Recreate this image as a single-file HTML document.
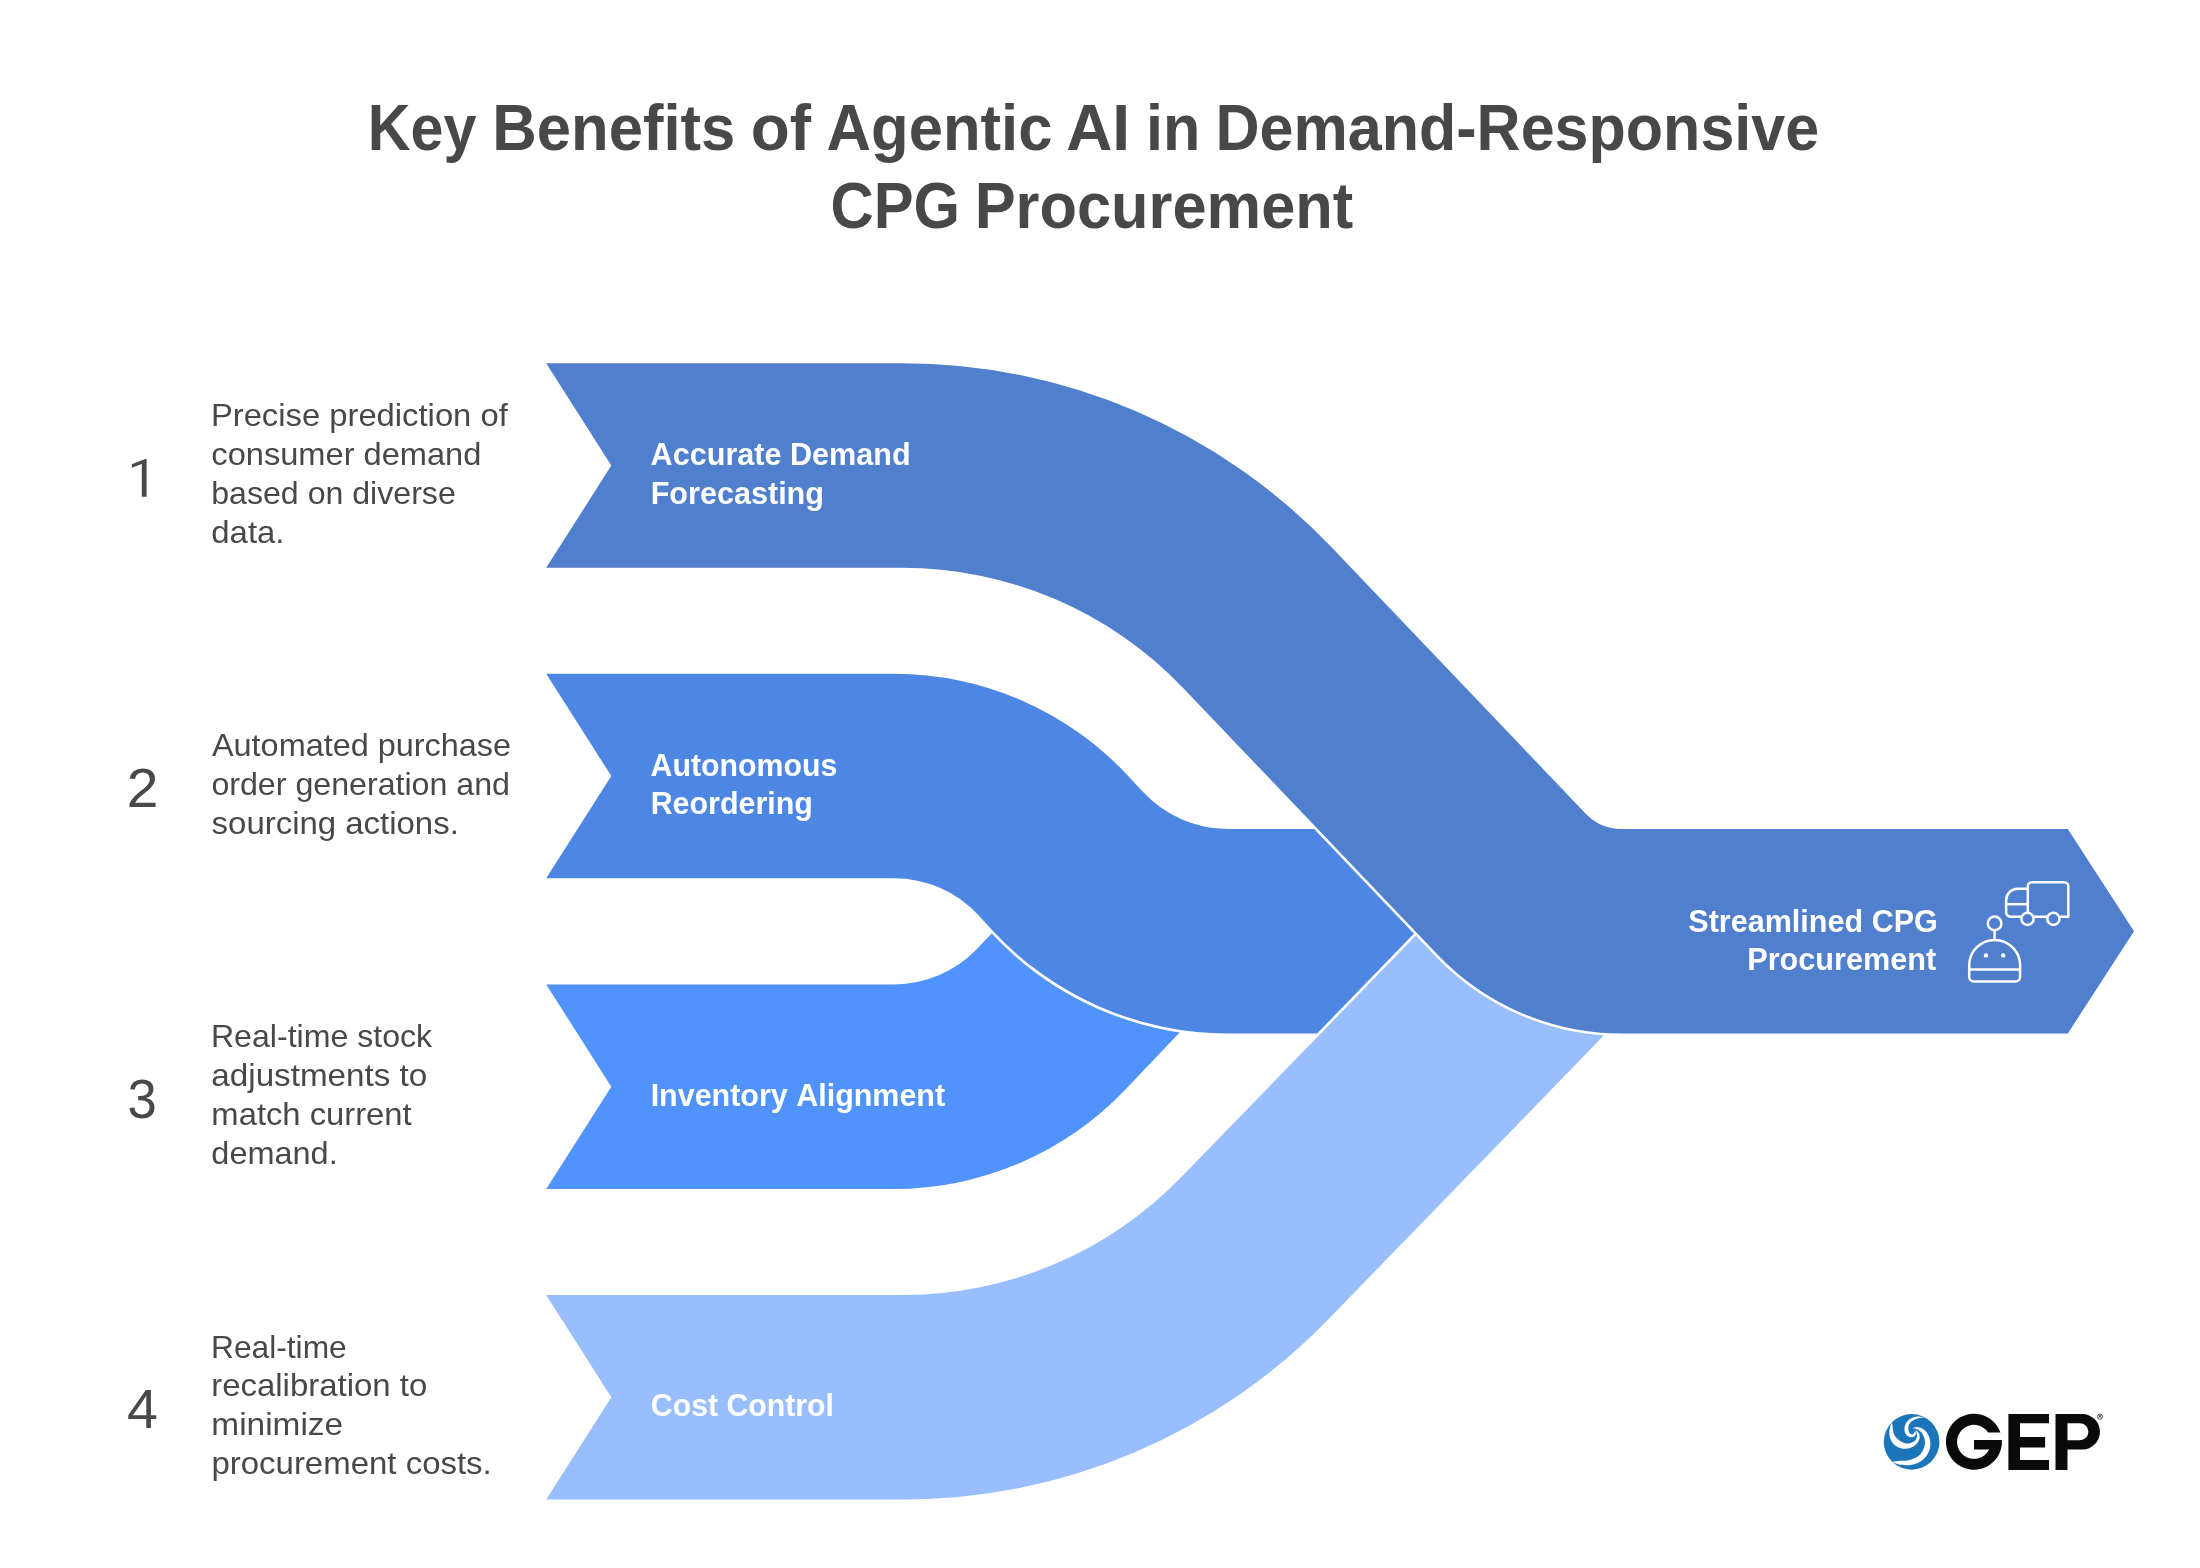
<!DOCTYPE html>
<html><head><meta charset="utf-8"><title>Key Benefits of Agentic AI in Demand-Responsive CPG Procurement</title>
<style>
html,body{margin:0;padding:0;background:#fff;}
body{width:2200px;height:1568px;overflow:hidden;font-family:"Liberation Sans",sans-serif;}
svg{display:block;}
svg text{font-family:"Liberation Sans",sans-serif;font-kerning:none;white-space:pre;}
</style></head><body>
<svg width="2200" height="1568" viewBox="0 0 2200 1568">
<rect width="2200" height="1568" fill="#fff"/>
<path d="M546.20 984.45 L893.90 984.45 A115.05 115.05 0 0 0 977.35 948.60 L1018.72 905.00 L1210.50 1000.00 L1125.69 1089.36 A319.55 319.55 0 0 1 893.90 1188.95 L546.20 1188.95 L611.30 1086.70 Z" fill="#5193FC" stroke="#fff" stroke-width="5.2" stroke-linejoin="miter" style="paint-order:stroke"/>
<path d="M546.20 673.75 L893.90 673.75 A319.55 319.55 0 0 1 1128.21 776.02 L1142.84 791.79 A115.95 115.95 0 0 0 1227.86 828.90 L1500.00 828.90 L1500.00 1033.50 L1227.95 1033.50 A320.45 320.45 0 0 1 992.98 930.94 L978.26 915.07 A115.05 115.05 0 0 0 893.90 878.25 L546.20 878.25 L611.30 776.00 Z" fill="#4E87E3" stroke="#fff" stroke-width="5.2" stroke-linejoin="miter" style="paint-order:stroke"/>
<path d="M546.20 1294.95 L903.15 1294.95 A387.40 387.40 0 0 0 1181.16 1177.34 L1445.45 905.00 L1643.07 995.00 L1327.92 1319.76 A591.90 591.90 0 0 1 903.15 1499.45 L546.20 1499.45 L611.30 1397.20 Z" fill="#98BEFD" stroke="#fff" stroke-width="5.2" stroke-linejoin="miter" style="paint-order:stroke"/>
<path d="M546.20 363.30 L902.30 363.30 A592.70 592.70 0 0 1 1331.09 546.81 L1585.51 813.42 A50.00 50.00 0 0 0 1621.68 828.90 L2067.8 828.90 L2134 931.20 L2067.8 1033.50 L1621.77 1033.50 A254.50 254.50 0 0 1 1437.66 954.70 L1183.14 688.00 A388.20 388.20 0 0 0 902.30 567.80 L546.20 567.80 L611.30 465.55 Z" fill="#507FCE" stroke="#fff" stroke-width="5.2" stroke-linejoin="miter" style="paint-order:stroke"/>
<g style="opacity:0.999">
<text transform="translate(367.83 150.00) scale(0.9113 1)" font-weight="bold" font-size="65" fill="#484848">Key</text>
<text transform="translate(492.27 150.00) scale(0.9479 1)" font-weight="bold" font-size="65" fill="#484848">Benefits</text>
<text transform="translate(750.66 150.00) scale(0.9827 1)" font-weight="bold" font-size="65" fill="#484848">of</text>
<text transform="translate(826.49 150.00) scale(0.9483 1)" font-weight="bold" font-size="65" fill="#484848">Agentic</text>
<text transform="translate(1066.22 150.00) scale(0.9832 1)" font-weight="bold" font-size="65" fill="#484848">AI</text>
<text transform="translate(1145.93 150.00) scale(0.9406 1)" font-weight="bold" font-size="65" fill="#484848">in</text>
<text transform="translate(1215.40 150.00) scale(0.9393 1)" font-weight="bold" font-size="65" fill="#484848">Demand-Responsive</text>
<text transform="translate(830.52 227.50) scale(0.9194 1)" font-weight="bold" font-size="65" fill="#484848">CPG</text>
<text transform="translate(974.63 227.50) scale(0.9444 1)" font-weight="bold" font-size="65" fill="#484848">Procurement</text>
<text transform="translate(126.73 807.33) scale(1.0309 1)" font-weight="normal" font-size="55.3" fill="#484848">2</text>
<text transform="translate(127.48 1117.86) scale(0.9517 1)" font-weight="normal" font-size="55.3" fill="#484848">3</text>
<text transform="translate(127.11 1428.39) scale(1.0051 1)" font-weight="normal" font-size="55.3" fill="#484848">4</text>
<text transform="translate(210.88 426.10) scale(1.0248 1)" font-weight="normal" font-size="32" fill="#484848">Precise prediction of</text>
<text transform="translate(211.36 464.90) scale(1.0190 1)" font-weight="normal" font-size="32" fill="#484848">consumer demand</text>
<text transform="translate(211.27 503.70) scale(1.0032 1)" font-weight="normal" font-size="32" fill="#484848">based on diverse</text>
<text transform="translate(211.25 542.50) scale(1.0295 1)" font-weight="normal" font-size="32" fill="#484848">data.</text>
<text transform="translate(211.95 756.03) scale(1.0134 1)" font-weight="normal" font-size="32" fill="#484848">Automated purchase</text>
<text transform="translate(211.39 794.83) scale(1.0050 1)" font-weight="normal" font-size="32" fill="#484848">order generation and</text>
<text transform="translate(211.59 833.63) scale(1.0298 1)" font-weight="normal" font-size="32" fill="#484848">sourcing actions.</text>
<text transform="translate(210.93 1047.16) scale(1.0034 1)" font-weight="normal" font-size="32" fill="#484848">Real-time stock</text>
<text transform="translate(211.31 1085.96) scale(1.0382 1)" font-weight="normal" font-size="32" fill="#484848">adjustments to</text>
<text transform="translate(211.37 1124.76) scale(1.0243 1)" font-weight="normal" font-size="32" fill="#484848">match current</text>
<text transform="translate(211.37 1163.56) scale(1.0149 1)" font-weight="normal" font-size="32" fill="#484848">demand.</text>
<text transform="translate(210.96 1357.69) scale(0.9922 1)" font-weight="normal" font-size="32" fill="#484848">Real-time</text>
<text transform="translate(211.18 1396.49) scale(1.0303 1)" font-weight="normal" font-size="32" fill="#484848">recalibration to</text>
<text transform="translate(211.33 1435.29) scale(1.0445 1)" font-weight="normal" font-size="32" fill="#484848">minimize</text>
<text transform="translate(211.41 1474.09) scale(1.0306 1)" font-weight="normal" font-size="32" fill="#484848">procurement costs.</text>
<text transform="translate(650.56 465.00) scale(0.9567 1)" font-weight="bold" font-size="32" fill="#fff">Accurate Demand</text>
<text transform="translate(650.64 503.80) scale(0.9559 1)" font-weight="bold" font-size="32" fill="#fff">Forecasting</text>
<text transform="translate(650.57 775.50) scale(0.9474 1)" font-weight="bold" font-size="32" fill="#fff">Autonomous</text>
<text transform="translate(650.65 814.30) scale(0.9504 1)" font-weight="bold" font-size="32" fill="#fff">Reordering</text>
<text transform="translate(650.65 1105.50) scale(0.9521 1)" font-weight="bold" font-size="32" fill="#fff">Inventory Alignment</text>
<text transform="translate(650.87 1416.00) scale(0.9450 1)" font-weight="bold" font-size="32" fill="#fff">Cost Control</text>
<text transform="translate(1688.25 931.50) scale(0.9552 1)" font-weight="bold" font-size="32" fill="#fff">Streamlined CPG</text>
<text transform="translate(1747.24 970.40) scale(0.9578 1)" font-weight="bold" font-size="32" fill="#fff">Procurement</text>
<path d="M131.8 464.3 L145.2 458.9 H146.6 V496.8 H141.8 V463.9 L131.8 467.7 Z" fill="#484848"/>
</g>
<g fill="none" stroke="#fff" stroke-width="2.5" stroke-linecap="butt" stroke-linejoin="round">
<!-- truck cargo -->
<path d="M2027.8 916.7 V886.3 a4 4 0 0 1 4 -4 H2064.3 a4 4 0 0 1 4 4 V916.7 H2027.8"/>
<!-- truck cab -->
<path d="M2027.8 888.8 H2017.7 A11.6 11.6 0 0 0 2006.1 900.4 V912.2 a4.5 4.5 0 0 0 4.5 4.5 H2027.8"/>
<path d="M2006.1 904.2 H2027.8"/>
<!-- wheels -->
<circle cx="2027.5" cy="918.9" r="6.1" fill="#507FCE"/>
<circle cx="2053.4" cy="918.9" r="6.1" fill="#507FCE"/>
<!-- robot -->
<circle cx="1994.6" cy="923.4" r="6.8"/>
<path d="M1994.6 930.2 V939.9"/>
<path d="M1969.2 977 V965.4 A25.45 25.45 0 0 1 2020.1 965.4 V977 a4.4 4.4 0 0 1 -4.4 4.4 H1973.6 a4.4 4.4 0 0 1 -4.4 -4.4 Z"/>
<path d="M1969.2 969.6 H2020.1"/>
<circle cx="1986" cy="955.4" r="2.2" fill="#fff" stroke="none"/>
<circle cx="2003.2" cy="955.4" r="2.2" fill="#fff" stroke="none"/>
</g>

<g transform="translate(1875 1405) scale(0.046555)">
<circle cx="786.5" cy="792.5" r="598" fill="#1B75BB"/>
<path d="M368.0 372.0 C360.3 390.0 332.0 438.7 322.0 480.0 C312.0 521.3 304.2 573.3 308.0 620.0 C311.8 666.7 321.3 716.7 345.0 760.0 C368.7 803.3 407.5 850.3 450.0 880.0 C492.5 909.7 548.3 930.5 600.0 938.0 C651.7 945.5 713.3 939.7 760.0 925.0 C806.7 910.3 848.3 880.8 880.0 850.0 C911.7 819.2 937.5 775.0 950.0 740.0 C962.5 705.0 960.8 668.3 955.0 640.0 C949.2 611.7 930.8 585.8 915.0 570.0 C899.2 554.2 869.2 549.2 860.0 545.0 L860.0 545.0 C865.8 554.2 888.3 575.8 895.0 600.0 C901.7 624.2 907.5 660.8 900.0 690.0 C892.5 719.2 875.0 753.0 850.0 775.0 C825.0 797.0 786.7 815.3 750.0 822.0 C713.3 828.7 670.0 827.0 630.0 815.0 C590.0 803.0 545.8 778.3 510.0 750.0 C474.2 721.7 436.0 684.7 415.0 645.0 C394.0 605.3 391.8 557.5 384.0 512.0 C376.2 466.5 370.7 395.3 368.0 372.0 Z" fill="#fff"/>
<path d="M372.0 1218.0 C393.3 1227.5 448.7 1262.2 500.0 1275.0 C551.3 1287.8 620.0 1296.7 680.0 1295.0 C740.0 1293.3 803.3 1284.2 860.0 1265.0 C916.7 1245.8 975.0 1215.8 1020.0 1180.0 C1065.0 1144.2 1102.5 1096.7 1130.0 1050.0 C1157.5 1003.3 1176.7 951.7 1185.0 900.0 C1193.3 848.3 1190.8 790.0 1180.0 740.0 C1169.2 690.0 1146.7 638.3 1120.0 600.0 C1093.3 561.7 1056.7 530.8 1020.0 510.0 C983.3 489.2 936.7 476.7 900.0 475.0 C863.3 473.3 816.7 495.8 800.0 500.0 L800.0 500.0 C816.7 503.3 868.3 506.7 900.0 520.0 C931.7 533.3 965.0 553.3 990.0 580.0 C1015.0 606.7 1035.8 643.3 1050.0 680.0 C1064.2 716.7 1075.0 758.3 1075.0 800.0 C1075.0 841.7 1065.8 888.3 1050.0 930.0 C1034.2 971.7 1011.7 1015.0 980.0 1050.0 C948.3 1085.0 906.7 1116.7 860.0 1140.0 C813.3 1163.3 753.3 1180.0 700.0 1190.0 C646.7 1200.0 594.7 1195.3 540.0 1200.0 C485.3 1204.7 400.0 1215.0 372.0 1218.0 Z" fill="#fff"/>
<path d="M1068.0 268.0 C1050.0 264.7 996.3 249.7 960.0 248.0 C923.7 246.3 885.0 249.3 850.0 258.0 C815.0 266.7 780.0 279.7 750.0 300.0 C720.0 320.3 689.2 350.0 670.0 380.0 C650.8 410.0 640.0 446.7 635.0 480.0 C630.0 513.3 630.8 550.0 640.0 580.0 C649.2 610.0 668.3 640.8 690.0 660.0 C711.7 679.2 743.3 693.3 770.0 695.0 C796.7 696.7 831.7 684.2 850.0 670.0 C868.3 655.8 880.0 628.3 880.0 610.0 C880.0 591.7 855.0 568.3 850.0 560.0 L850.0 560.0 C846.7 570.0 841.7 608.3 830.0 620.0 C818.3 631.7 795.8 635.0 780.0 630.0 C764.2 625.0 745.8 610.0 735.0 590.0 C724.2 570.0 715.8 538.3 715.0 510.0 C714.2 481.7 717.5 446.7 730.0 420.0 C742.5 393.3 765.0 370.0 790.0 350.0 C815.0 330.0 848.3 312.5 880.0 300.0 C911.7 287.5 948.7 280.3 980.0 275.0 C1011.3 269.7 1053.3 269.2 1068.0 268.0 Z" fill="#fff"/>
</g>
<g fill="#0a0a0a">
<path d="M2000.4 1432.5 A28 28 0 1 0 2001.9 1440 H1974 V1449.5 H1989.2 A17 17 0 1 1 1988.2 1432.5 Z"/>
<path d="M2008.4 1414.1 H2049 V1423.2 H2020 V1437.1 H2045.1 V1447.5 H2020 V1459.9 H2049 V1469.9 H2008.4 Z"/>
<path fill-rule="evenodd" d="M2055.5 1414.1 H2082.3 A17.7 17.7 0 0 1 2082.3 1449.5 H2067.5 V1469.9 H2055.5 Z M2067.5 1423.2 H2079.9 A8.5 8.5 0 0 1 2079.9 1440.2 H2067.5 Z"/>
</g>
<circle cx="2100" cy="1416.7" r="2.6" fill="none" stroke="#222" stroke-width="0.7"/>
<text x="2098.6" y="1418.2" font-size="4" font-weight="bold" fill="#222">R</text>

</svg>
</body></html>
